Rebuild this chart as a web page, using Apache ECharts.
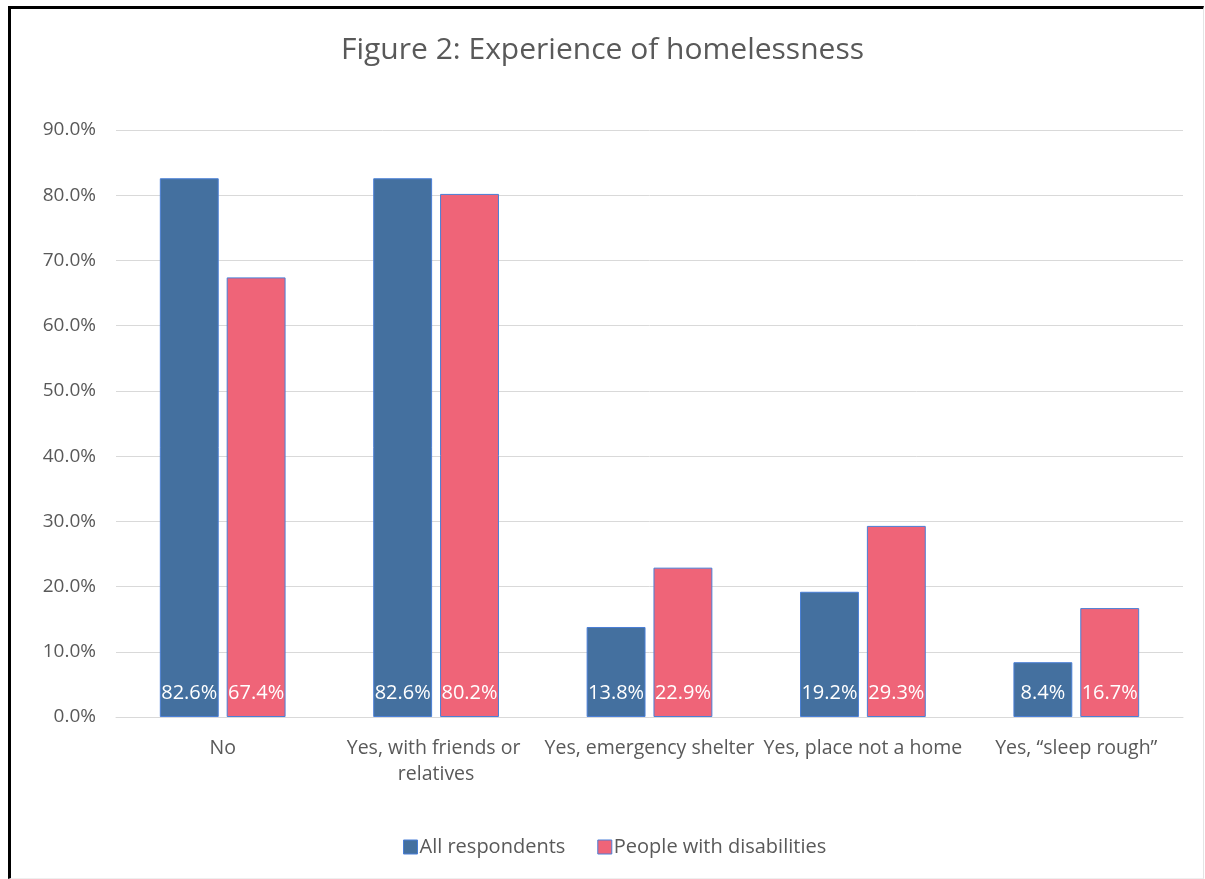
<!DOCTYPE html>
<html>
<head>
<meta charset="utf-8">
<script src="https://cdn.jsdelivr.net/npm/echarts@6/dist/echarts.min.js"></script>
<style>
  html, body { margin: 0; padding: 0; background: #fff; }
  #frame {
    position: absolute; left: 8px; top: 6px; width: 1196px; height: 873px;
    border-left: 3px solid #000; border-top: 3px solid #000;
    border-right: 1px solid #e4e4e4; border-bottom: 1px solid #efefef;
    box-sizing: border-box;
  }
  #chart { position: absolute; left: 0; top: 0; width: 1205px; height: 879px; }
</style>
</head>
<body>
<div id="frame"></div>
<div id="chart"></div>
<script>
// Experience of homelessness: share of respondents by type of experience
const categories = [
  'No',
  'Yes, with friends or relatives',
  'Yes, emergency shelter',
  'Yes, place not a home',
  'Yes, \u201csleep rough\u201d'
];
const allRespondents = [82.6, 82.6, 13.8, 19.2, 8.4];
const peopleWithDisabilities = [67.4, 80.2, 22.9, 29.3, 16.7];
const seriesNames = ['All respondents', 'People with disabilities'];
const yTicks = { min: 0, max: 90, interval: 10 };

const FONT = '"Open Sans", sans-serif';
const TEXT = '#595959';
const BLUE = '#44709F';
const RED = '#EF6478';
const EDGE = '#4A7FD6';

const chart = echarts.init(document.getElementById('chart'), null, { renderer: 'canvas' });

function barSeries(name, data, color) {
  return {
    name: name,
    type: 'bar',
    data: data,
    barWidth: '27.6%',
    barGap: '13.5%',
    itemStyle: { color: color, borderColor: EDGE, borderWidth: 1 },
    label: {
      show: true,
      position: 'insideBottom',
      distance: 14,
      color: '#ffffff',
      fontFamily: FONT,
      fontSize: 20,
      formatter: p => p.value.toFixed(1) + '%'
    }
  };
}

chart.setOption({
  animation: false,
  backgroundColor: 'transparent',
  title: {
    text: 'Figure 2: Experience of homelessness',
    left: 'center',
    top: 30,
    textStyle: { color: TEXT, fontFamily: FONT, fontSize: 30, fontWeight: 'normal' }
  },
  legend: {
    bottom: 17,
    left: 398,
    icon: 'rect',
    itemWidth: 14,
    itemHeight: 14,
    itemGap: 32,
    itemStyle: { borderColor: EDGE, borderWidth: 1 },
    textStyle: { color: TEXT, fontFamily: FONT, fontSize: 20, padding: [0, 0, 0, -3] },
    data: seriesNames
  },
  grid: { left: 116, right: 22, top: 130, bottom: 162 },
  xAxis: {
    type: 'category',
    data: categories,
    axisLine: { lineStyle: { color: '#d9d9d9', width: 1 } },
    axisTick: { show: false },
    axisLabel: {
      interval: 0,
      margin: 18,
      color: TEXT,
      fontFamily: FONT,
      fontSize: 19.5,
      lineHeight: 26,
      width: 214,
      overflow: 'break'
    }
  },
  yAxis: {
    type: 'value',
    min: yTicks.min,
    max: yTicks.max,
    interval: yTicks.interval,
    axisLine: { show: false },
    axisTick: { show: false },
    splitLine: { lineStyle: { color: '#d9d9d9', width: 1 } },
    axisLabel: {
      margin: 20,
      color: TEXT,
      fontFamily: FONT,
      fontSize: 19,
      formatter: v => v.toFixed(1) + '%'
    }
  },
  series: [
    barSeries(seriesNames[0], allRespondents, BLUE),
    barSeries(seriesNames[1], peopleWithDisabilities, RED)
  ]
});
</script>
</body>
</html>
